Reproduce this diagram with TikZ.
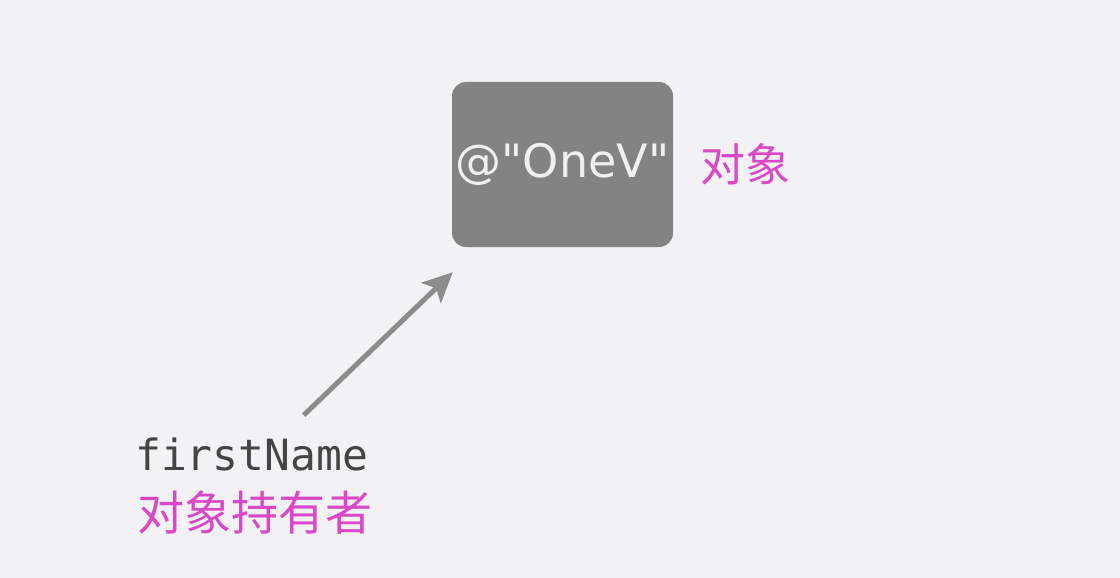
\documentclass[tikz,border=0pt]{standalone}
\usepackage{fontspec}
\setmainfont{DejaVu Sans}
\setmonofont{DejaVu Sans Mono}
\newfontfamily\cjk{Noto Sans CJK SC}
\usetikzlibrary{positioning,arrows.meta}
\definecolor{bggray}{RGB}{242,242,245}
\definecolor{boxgray}{RGB}{128,132,130}
\definecolor{pinkish}{RGB}{218,72,200}
\definecolor{arrowgray}{RGB}{140,140,140}
\definecolor{codegray}{RGB}{68,68,68}
\begin{document}
\begin{tikzpicture}[x=1pt,y=-1pt,
  objbox/.style={fill=boxgray,rounded corners=14pt,minimum width=221pt,minimum height=165pt,
    text=white!94!black,font=\fontsize{46}{50}\selectfont,inner sep=0},
  pinklbl/.style={text=pinkish,font=\cjk\fontsize{45}{50}\selectfont,inner sep=0},
  ptr/.style={draw=arrowgray,line width=5pt,-{Stealth[length=30pt,width=28pt,inset=7pt]}}]
\fill[bggray](0,0)rectangle(1120,578);

\node[objbox] (obj) at (562.5,164.5) {@\textquotedbl OneV\textquotedbl};
\node[pinklbl,right=27pt of obj] (objlbl) {对象};

\node[anchor=base west,inner sep=0,text=codegray,font=\ttfamily\fontsize{43}{48}\selectfont] (holder) at (135,470) {firstName};
\node[pinklbl,anchor=base west,font=\cjk\fontsize{47}{50}\selectfont] (holdlbl) at (137,530) {对象持有者};

\draw[ptr]([xshift=52pt,yshift=22pt]holder.north)--([xshift=1pt,yshift=-25pt]obj.south west);

\end{tikzpicture}
\end{document}
